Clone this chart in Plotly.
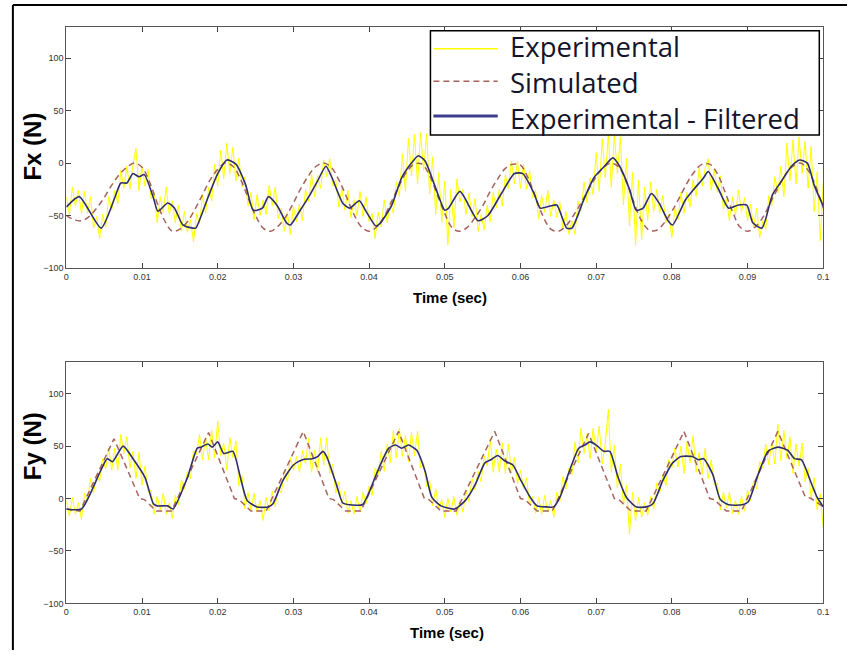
import numpy as np
import plotly.graph_objects as go

# time grid of the raw (experimental) records, 0.4 ms sampling
t_exp = np.linspace(0, 0.1, 251)

fx_exp = [-32, -49, -23, -41, -26, -48, -27, -48, -32, -62,
          -51, -72, -49, -61, -32, -45, -26, -39, -7, -24,
          -3, -25, -2, 14, -26, -3, -22, -6, -34, -28,
          -57, -32, -47, -23, -49, -36, -57, -40, -65, -46,
          -66, -54, -75, -48, -58, -30, -48, -23, -36, -1,
          -22, 12, -15, 19, -10, 15, -17, 5, -23, -13,
          -41, -28, -54, -30, -50, -35, -49, -21, -41, -23,
          -53, -43, -65, -47, -68, -41, -56, -39, -55, -25,
          -37, -11, -32, -12, -24, 3, -13, 4, -22, -16,
          -42, -24, -45, -26, -52, -35, -50, -27, -51, -32,
          -56, -48, -72, -47, -61, -35, -57, -37, -48, -18,
          -32, 9, -27, 24, -12, 27, -20, 29, -7, 28,
          -29, 6, -49, -9, -56, -17, -78, -25, -62, -15,
          -37, -25, -49, -29, -51, -34, -65, -49, -64, -40,
          -56, -28, -43, -25, -41, -11, -24, 2, -20, 2,
          -24, -1, -25, -7, -33, -26, -53, -31, -47, -26,
          -51, -35, -52, -37, -63, -46, -68, -55, -68, -36,
          -46, -18, -38, -14, -30, 10, -27, 23, -14, 27,
          -23, 27, -10, 25, -40, 4, -60, -9, -78, -16,
          -73, -23, -55, -18, -46, -25, -48, -31, -57, -49,
          -71, -43, -54, -28, -48, -28, -42, -16, -32, -5,
          -22, -5, 4, -26, -6, -28, -12, -44, -34, -55,
          -32, -50, -26, -46, -33, -55, -39, -62, -43, -71,
          -55, -63, -31, -41, -13, -28, -3, -32, 19, -17,
          22, -20, 25, -10, 21, -24, 16, -46, -8, -74,
          -19]

fy_exp = [-2, -17, 1, -15, -4, -20, 5, -3, 19, 5,
          23, 16, 38, 28, 48, 27, 48, 27, 61, 43,
          59, 29, 45, 19, 44, 13, 31, 6, 8, -15,
          2, -11, 5, -15, -4, -19, 3, -6, 18, 9,
          26, 19, 46, 42, 61, 37, 58, 37, 65, 39,
          74, 41, 53, 27, 58, 39, 55, 12, 22, -10,
          6, -11, 5, -13, -2, -21, 1, -12, 7, -8,
          11, 5, 27, 16, 39, 27, 40, 25, 46, 33,
          58, 25, 46, 25, 58, 32, 58, 24, 33, 5,
          16, -6, 7, -14, -2, -15, 2, -13, 6, -5,
          12, 3, 29, 23, 45, 26, 52, 34, 65, 39,
          67, 40, 60, 35, 63, 41, 64, 29, 34, 11,
          17, -7, 9, -10, -1, -18, 0, -13, 2, -16,
          -2, -13, 7, -3, 19, 8, 26, 16, 41, 31,
          57, 25, 47, 25, 53, 24, 52, 25, 39, 14,
          27, 9, 20, -6, 2, -14, 1, -15, 3, -13,
          -2, -18, 6, -3, 21, 9, 29, 23, 54, 34,
          67, 43, 62, 38, 67, 45, 69, 33, 52, 85,
          25, 51, 10, 33, -6, 13, -34, 6, -21, 1,
          -18, -4, -16, 2, -10, 15, 5, 23, 12, 37,
          29, 48, 30, 50, 24, 54, 34, 60, 25, 44,
          23, 48, 19, 37, 13, 15, -11, 6, -9, 6,
          -14, -2, -15, 2, -12, 8, -2, 17, 9, 35,
          29, 52, 32, 54, 33, 71, 36, 65, 38, 59,
          24, 52, 31, 53, 16, 29, 0, 20, -11, 5,
          -28]

# simulated Fx on a 1 ms grid
t_fx_sim = np.linspace(0, 0.1, 101)
fx_sim = [-50, -54, -55, -51, -43, -33, -21, -11, -4, 0,
          -4, -18, -38, -55, -65, -63, -56, -44, -30, -16,
          -6, 0, -3, -15, -33, -50, -62, -65, -60, -51,
          -38, -24, -12, -3, 0, -4, -16, -32, -49, -61,
          -65, -61, -51, -36, -21, -8, -1, -1, -12, -30,
          -48, -62, -65, -61, -52, -41, -27, -15, -5, -1,
          -2, -14, -33, -51, -63, -65, -60, -50, -38, -25,
          -13, -4, 0, -4, -18, -38, -55, -64, -64, -57,
          -46, -33, -19, -8, -1, -1, -10, -27, -46, -61,
          -65, -61, -52, -38, -24, -11, -3, 0, -7, -22,
          -43]

# simulated Fy (ms, N)
t_fy_sim_ms = [0, 1.8, 6.3, 9.7, 10.3, 11.9, 13.9, 18.8, 22.2, 22.8,
               24.4, 26.4, 31.3, 34.7, 35.3, 36.9, 38.9, 43.9, 47.3, 47.9,
               49.5, 51.5, 56.6, 60.0, 60.6, 62.2, 64.2, 69.0, 72.4, 73.0,
               74.6, 76.6, 81.6, 85.0, 85.6, 87.2, 89.2, 94.0, 97.6, 98.4,
               100]
fy_sim = [-10, -12, 57, 0, -1, -12, -12, 63, 0, -1,
          -12, -12, 64, 0, -1, -12, -12, 64, 0, -1,
          -12, -12, 64, 0, -1, -12, -12, 62, 0, -1,
          -12, -12, 64, 0, -1, -12, -12, 64, 2, 0,
          -8]

# filtered records (ms, N)
t_fx_filt_ms = [0, 1.7, 4.6, 6.4, 7.2, 8.0, 8.8, 9.6, 10.3, 11.5,
                12.1, 13.4, 14.3, 15.4, 16.7, 17.1, 18.7, 20.0, 21.2, 22.4,
                23.7, 24.7, 25.9, 26.7, 27.8, 29.1, 29.6, 30.9, 32.2, 33.2,
                34.3, 35.1, 36.5, 37.4, 38.7, 39.6, 40.9, 41.5, 43.0, 44.3,
                45.6, 46.5, 47.4, 48.7, 50.0, 50.5, 52.0, 54.4, 55.7, 57.4,
                59.2, 60.3, 61.8, 62.6, 63.9, 64.8, 66.1, 66.8, 68.3, 69.7,
                71.1, 72.2, 73.1, 74.4, 75.3, 76.2, 77.3, 78.3, 79.5, 80.1,
                81.8, 82.9, 84.2, 84.8, 86.1, 87.5, 88.8, 89.9, 90.7, 91.9,
                93.3, 94.5, 95.8, 96.9, 97.9, 98.8, 100]
fx_filt = [-42, -32, -62, -33, -19, -19, -10, -13, -11, -33,
           -46, -38, -43, -59, -62, -62, -33, -10, 3, -1,
           -21, -45, -43, -32, -40, -57, -59, -45, -30, -17,
           -3, -14, -38, -43, -36, -46, -60, -57, -40, -14,
           0, 7, 2, -22, -45, -43, -27, -55, -50, -30,
           -10, -10, -29, -43, -41, -40, -62, -62, -36, -14,
           -3, 5, -3, -25, -45, -43, -29, -38, -55, -59,
           -35, -25, -14, -8, -24, -43, -40, -40, -57, -62,
           -30, -17, -3, 3, 0, -21, -41]

t_fy_filt_ms = [0, 2.0, 4.5, 5.4, 6.1, 7.5, 8.9, 10.4, 11.5, 12.0,
                13.4, 14.1, 16.0, 17.3, 17.8, 18.7, 19.3, 20.0, 20.8, 22.0,
                23.0, 23.9, 25.2, 26.7, 27.3, 28.6, 30.0, 31.2, 32.5, 33.2,
                33.9, 34.4, 35.7, 36.5, 37.4, 39.1, 39.7, 41.3, 42.6, 43.5,
                44.3, 45.2, 46.3, 47.4, 48.3, 49.5, 51.3, 52.7, 54.0, 55.3,
                56.1, 57.0, 57.9, 59.0, 60.0, 61.3, 62.2, 63.5, 64.4, 65.2,
                66.5, 67.7, 68.5, 69.2, 70.0, 71.0, 71.8, 72.9, 74.0, 75.3,
                76.6, 77.5, 78.8, 80.1, 81.2, 82.7, 83.5, 84.2, 85.4, 86.4,
                87.5, 89.3, 90.1, 91.4, 92.7, 94.0, 95.3, 96.2, 97.1, 98.4,
                99.2, 100]
fy_filt = [-10, -10, 26, 38, 35, 50, 37, 20, -5, -7,
           -7, -10, 20, 48, 49, 52, 49, 54, 43, 45,
           20, -2, -8, -8, -5, 17, 32, 37, 38, 40,
           45, 40, 13, -4, -6, -6, 1, 29, 48, 51,
           48, 51, 46, 26, 1, -7, -10, -2, 13, 34,
           37, 41, 36, 32, 18, 1, -7, -8, -8, 1,
           27, 48, 51, 54, 51, 45, 45, 20, 1, -8,
           -8, -5, 17, 34, 40, 40, 37, 38, 23, -1,
           -6, -6, -3, 23, 45, 49, 46, 38, 37, 15,
           1, -8]

x_ticks = [0, 0.01, 0.02, 0.03, 0.04, 0.05, 0.06, 0.07, 0.08, 0.09, 0.1]
x_tick_labels = ['0', '0.01', '0.02', '0.03', '0.04', '0.05', '0.06', '0.07', '0.08', '0.09', '0.1']
y_ticks = [-100, -50, 0, 50, 100]
legend_names = ['Experimental', 'Simulated', 'Experimental - Filtered']

YELLOW = '#ffff00'
SIM = '#a8625c'
FILT = '#2e2e6e'

W, H = 853, 655

fig = go.Figure()

panels = [
    ('x', 'y', t_exp, fx_exp, t_fx_sim, fx_sim, [v / 1000 for v in t_fx_filt_ms], fx_filt),
    ('x2', 'y2', t_exp, fy_exp, [v / 1000 for v in t_fy_sim_ms], fy_sim,
     [v / 1000 for v in t_fy_filt_ms], fy_filt),
]
for xa, ya, te, ye, ts, ys, tf, yf in panels:
    fig.add_trace(go.Scatter(x=te, y=ye, mode='lines', name=legend_names[0],
                             line=dict(color=YELLOW, width=1), xaxis=xa, yaxis=ya))
    fig.add_trace(go.Scatter(x=ts, y=ys, mode='lines', name=legend_names[1],
                             line=dict(color=SIM, width=1.5, dash='6px,4px',
                                       shape='spline' if xa == 'x' else 'linear'),
                             xaxis=xa, yaxis=ya))
    fig.add_trace(go.Scatter(x=tf, y=yf, mode='lines', name=legend_names[2],
                             line=dict(color=FILT, width=1.6, shape='spline', smoothing=0.6),
                             xaxis=xa, yaxis=ya))

tick_font = dict(family='Liberation Sans Narrow, Arial Narrow, Arial, sans-serif', size=9, color='#333')
axis_common = dict(showgrid=False, zeroline=False, showline=True, linecolor='#555', linewidth=1.2,
                   mirror='ticks', ticks='inside', ticklen=5, tickcolor='#444', tickfont=tick_font)

fig.update_layout(
    width=W, height=H,
    margin=dict(l=0, r=0, t=0, b=0),
    paper_bgcolor='white', plot_bgcolor='white',
    showlegend=False,
    xaxis=dict(domain=[64 / W, 829 / W], range=[0, 0.1], tickvals=x_ticks, ticktext=x_tick_labels,
               anchor='y', **axis_common),
    yaxis=dict(domain=[1 - 270 / H, 1 - 27 / H], range=[-100, 130], tickvals=y_ticks,
               anchor='x', **axis_common),
    xaxis2=dict(domain=[64 / W, 829 / W], range=[0, 0.1], tickvals=x_ticks, ticktext=x_tick_labels,
                anchor='y2', **axis_common),
    yaxis2=dict(domain=[1 - 608 / H, 1 - 365 / H], range=[-100, 130], tickvals=y_ticks,
                anchor='x2', **axis_common),
)


def px(x):
    return x / W


def py(y):
    return 1 - y / H


# MATLAB-style legend box, drawn by hand so the tight row spacing can be matched
fig.add_shape(type='rect', xref='paper', yref='paper', x0=px(432), x1=px(825), y0=py(31), y1=py(136),
              line=dict(color='black', width=1.5), fillcolor='white', layer='above')
legend_rows = [(49, YELLOW, 1.5, 'solid'), (82, SIM, 1.5, '6px,4px'), (117, '#3d3d8f', 3, 'solid')]
for yc, col, lw, dash in legend_rows:
    fig.add_shape(type='line', xref='paper', yref='paper', x0=px(435), x1=px(500), y0=py(yc), y1=py(yc),
                  line=dict(color=col, width=lw, dash=dash), layer='above')
fig.add_annotation(text='<br>'.join(legend_names), x=px(510), y=py(83), xref='paper', yref='paper',
                   xanchor='left', yanchor='middle', align='left', showarrow=False,
                   font=dict(family='Open Sans, sans-serif', size=27.5, color='#14142a'))

# axis titles placed like the original figure
bold = dict(family='Arial, Liberation Sans, sans-serif', color='black')
fig.add_annotation(text='<b>Fx (N)</b>', x=px(30), y=py(148), xref='paper', yref='paper',
                   xanchor='center', yanchor='middle',
                   textangle=-90, showarrow=False, font=dict(size=24, **bold))
fig.add_annotation(text='<b>Fy (N)</b>', x=px(30), y=py(450), xref='paper', yref='paper',
                   xanchor='center', yanchor='middle',
                   textangle=-90, showarrow=False, font=dict(size=24, **bold))
fig.add_annotation(text='<b>Time (sec)</b>', x=px(452), y=py(300), xref='paper', yref='paper',
                   xanchor='center', yanchor='middle', showarrow=False, font=dict(size=15, **bold))
fig.add_annotation(text='<b>Time (sec)</b>', x=px(449), y=py(637), xref='paper', yref='paper',
                   xanchor='center', yanchor='middle', showarrow=False, font=dict(size=15, **bold))

# outer frame (top and left edges of the scanned figure)
fig.add_shape(type='line', xref='paper', yref='paper', x0=px(10), x1=1, y0=py(5), y1=py(5),
              line=dict(color='black', width=2))
fig.add_shape(type='line', xref='paper', yref='paper', x0=px(10), x1=px(10), y0=0, y1=py(5),
              line=dict(color='black', width=2))

# drop the default page margin / scrollbars so the figure sits exactly in the window
page_js = ("var s=document.documentElement.style;s.overflow='hidden';s.height='655px';"
           "var b=document.body.style;b.margin='0';b.overflow='hidden';b.height='655px';")
fig.write_html('out.html', config={'displayModeBar': False}, post_script=page_js)
